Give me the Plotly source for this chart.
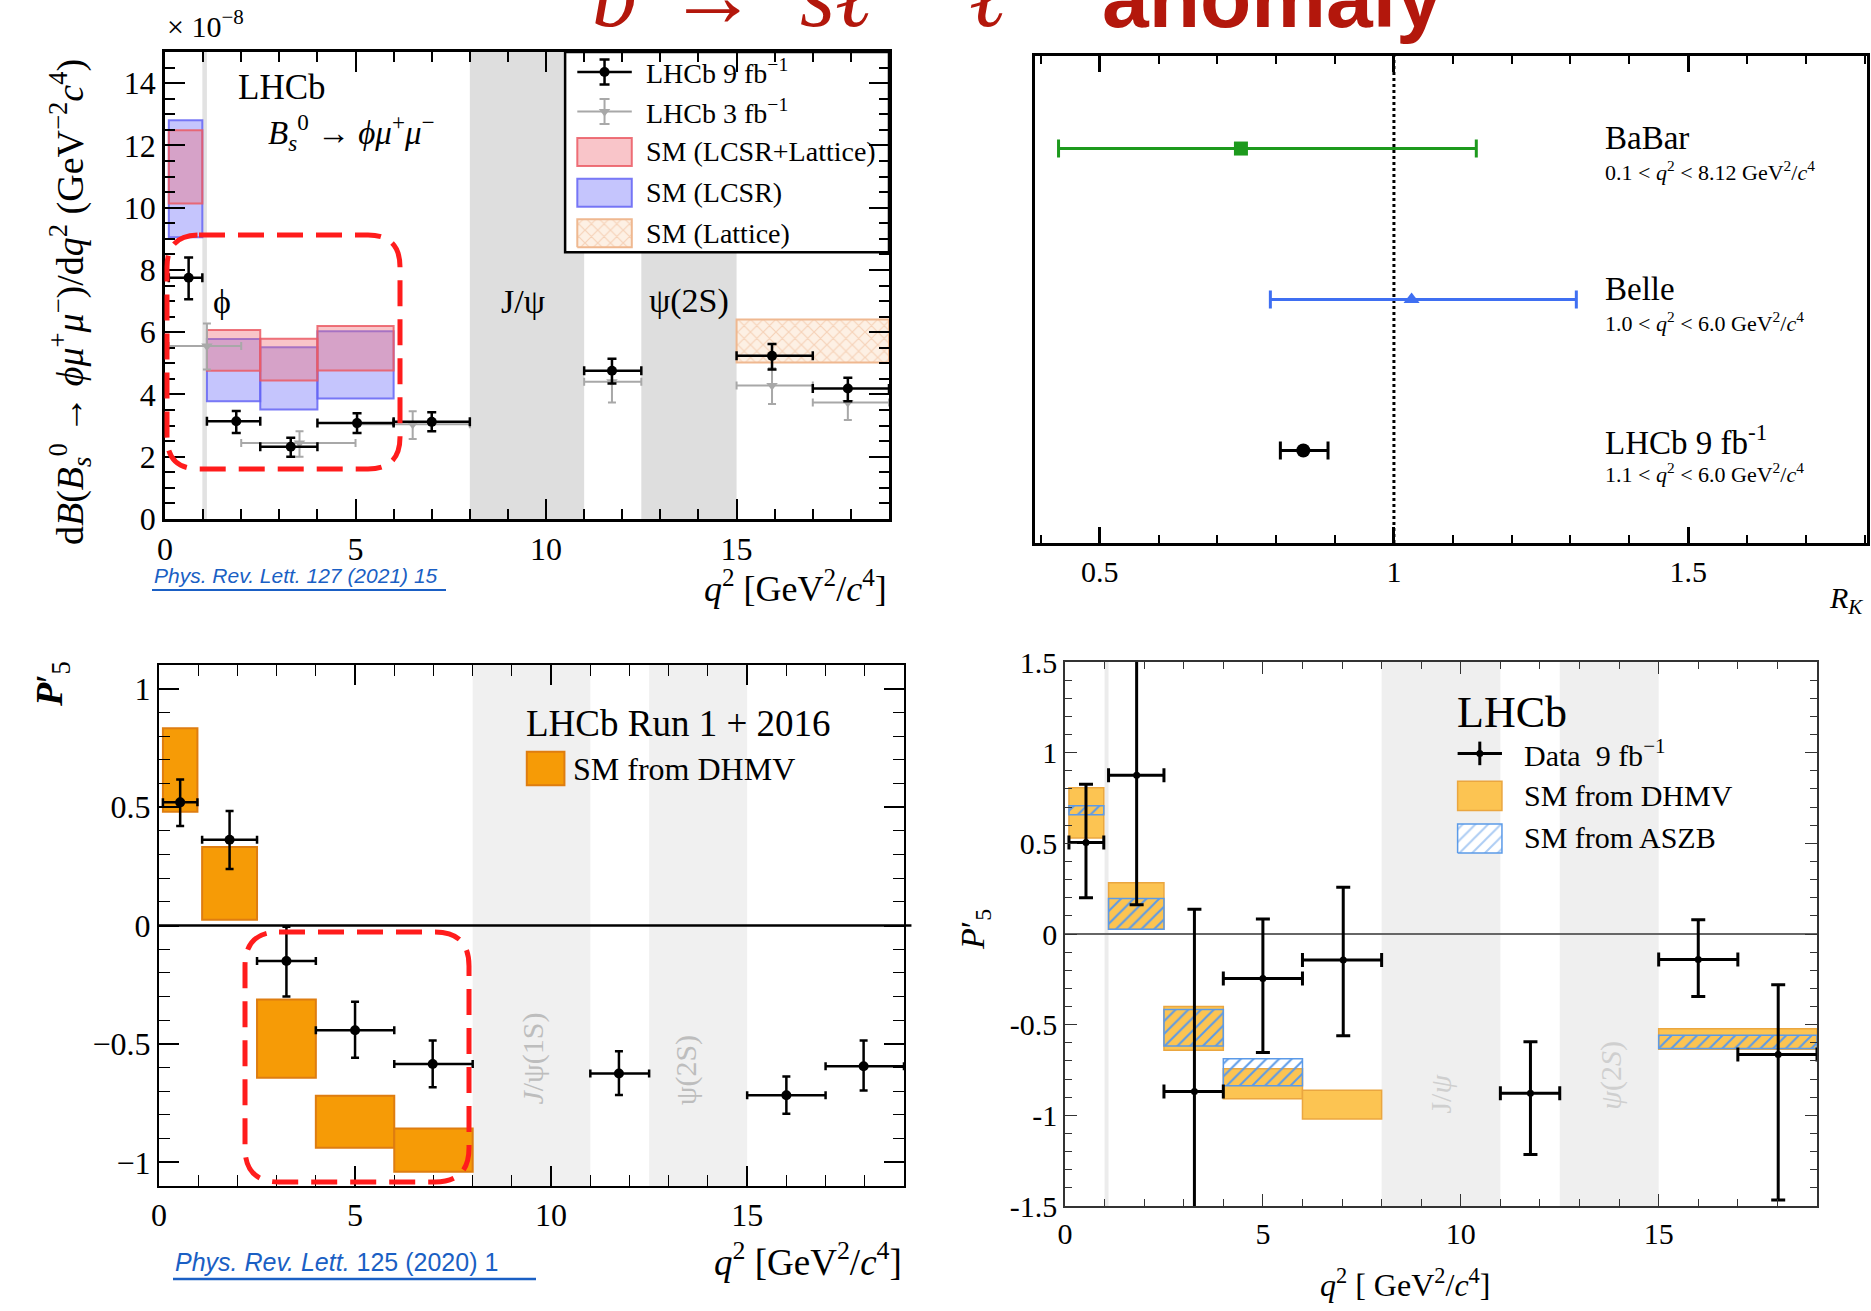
import plotly.graph_objects as go

W, H = 1871, 1311
SERIF = "Liberation Serif"
SANS = "Liberation Sans"

# ---------------------------------------------------------------------------
# Data
# ---------------------------------------------------------------------------
# dB(Bs -> phi mu mu)/dq2 in units of 1e-8 GeV^-2 c^4, LHCb 9 fb^-1
bf9_bin_lo = [0.1, 1.1, 2.5, 4.0, 6.0, 11.0, 15.0, 17.0]
bf9_bin_hi = [0.98, 2.5, 4.0, 6.0, 8.0, 12.5, 17.0, 19.0]
bf9_q2 = [0.62, 1.87, 3.30, 5.04, 7.00, 11.73, 15.93, 17.92]
bf9_val = [7.75, 3.14, 2.32, 3.08, 3.12, 4.76, 5.24, 4.19]
bf9_err_hi = [0.65, 0.33, 0.29, 0.32, 0.31, 0.39, 0.38, 0.35]
bf9_err_lo = [0.69, 0.38, 0.32, 0.32, 0.30, 0.41, 0.44, 0.41]

# LHCb 3 fb^-1
bf3_bin_lo = [0.1, 2.0, 5.0, 11.0, 15.0, 17.0]
bf3_bin_hi = [2.0, 5.0, 8.0, 12.5, 17.0, 19.0]
bf3_q2 = [1.10, 3.53, 6.50, 11.73, 15.93, 17.92]
bf3_val = [5.56, 2.44, 3.04, 4.41, 4.29, 3.74]
bf3_err_hi = [0.72, 0.38, 0.42, 0.30, 0.55, 0.42]
bf3_err_lo = [0.76, 0.44, 0.47, 0.67, 0.60, 0.56]

# SM predictions for the branching fraction
sm_bin_lo = [0.1, 1.1, 2.5, 4.0]
sm_bin_hi = [0.98, 2.5, 4.0, 6.0]
sm_lcsr_lat_lo = [10.13, 4.76, 4.45, 4.77]
sm_lcsr_lat_hi = [12.49, 6.07, 5.79, 6.20]
sm_lcsr_lo = [9.05, 3.78, 3.52, 3.87]
sm_lcsr_hi = [12.81, 5.78, 5.52, 6.03]
sm_lat_bin_lo = [15.0]
sm_lat_bin_hi = [19.0]
sm_lat_lo = [5.03]
sm_lat_hi = [6.41]

# R_K measurements
rk_names = ["BaBar", "Belle", "LHCb 9 fb<sup>-1</sup>"]
rk_q2_ranges = [
    "0.1 &lt; <i>q</i><sup>2</sup> &lt; 8.12 GeV<sup>2</sup>/<i>c</i><sup>4</sup>",
    "1.0 &lt; <i>q</i><sup>2</sup> &lt; 6.0 GeV<sup>2</sup>/<i>c</i><sup>4</sup>",
    "1.1 &lt; <i>q</i><sup>2</sup> &lt; 6.0 GeV<sup>2</sup>/<i>c</i><sup>4</sup>",
]
rk_row = [3, 2, 1]
rk_val = [0.74, 1.03, 0.846]
rk_err_hi = [0.40, 0.28, 0.042]
rk_err_lo = [0.31, 0.24, 0.039]
rk_colors = ["#1d9a1d", "#3f6ff2", "#000000"]
rk_symbols = ["square", "triangle-up", "circle"]

# P5' from LHCb Run 1 + 2016
p5a_bin_lo = [0.1, 1.1, 2.5, 4.0, 6.0, 11.0, 15.0, 17.0]
p5a_bin_hi = [0.98, 2.5, 4.0, 6.0, 8.0, 12.5, 17.0, 19.0]
p5a_q2 = [0.54, 1.80, 3.25, 5.00, 6.98, 11.73, 16.00, 17.97]
p5a_val = [0.520, 0.362, -0.150, -0.442, -0.585, -0.625, -0.717, -0.594]
p5a_err_hi = [0.096, 0.122, 0.145, 0.120, 0.099, 0.094, 0.079, 0.108]
p5a_err_lo = [0.100, 0.123, 0.150, 0.116, 0.098, 0.091, 0.078, 0.103]
dhmv_a_bin_lo = [0.1, 1.1, 2.5, 4.0, 6.0]
dhmv_a_bin_hi = [0.98, 2.5, 4.0, 6.0, 8.0]
dhmv_a_lo = [0.480, 0.024, -0.643, -0.938, -1.040]
dhmv_a_hi = [0.833, 0.331, -0.313, -0.719, -0.857]

# P5' from LHCb 9 fb^-1
p5b_bin_lo = [0.1, 1.1, 2.5, 4.0, 6.0, 11.0, 15.0, 17.0]
p5b_bin_hi = [0.98, 2.5, 4.0, 6.0, 8.0, 12.5, 17.0, 19.0]
p5b_q2 = [0.53, 1.81, 3.27, 5.00, 7.03, 11.76, 16.00, 18.02]
p5b_val = [0.504, 0.875, -0.868, -0.246, -0.144, -0.878, -0.140, -0.665]
p5b_err_hi = [0.322, 0.745, 1.005, 0.329, 0.402, 0.284, 0.218, 0.385]
p5b_err_lo = [0.304, 0.714, 0.882, 0.407, 0.417, 0.338, 0.205, 0.802]
dhmv_b_bin_lo = [0.1, 1.1, 2.5, 4.0, 6.0, 15.0]
dhmv_b_bin_hi = [0.98, 2.5, 4.0, 6.0, 8.0, 19.0]
dhmv_b_lo = [0.530, 0.026, -0.641, -0.908, -1.020, -0.636]
dhmv_b_hi = [0.807, 0.282, -0.400, -0.743, -0.861, -0.523]
aszb_bin_lo = [0.1, 1.1, 2.5, 4.0, 15.0]
aszb_bin_hi = [0.98, 2.5, 4.0, 6.0, 19.0]
aszb_lo = [0.658, 0.026, -0.617, -0.837, -0.632]
aszb_hi = [0.707, 0.196, -0.416, -0.688, -0.558]

# resonance vetoes (q2 ranges)
veto_phi = (0.98, 1.1)
veto_jpsi = (8.0, 11.0)
veto_psi2s = (12.5, 15.0)

# ---------------------------------------------------------------------------
fig = go.Figure()


def px_x(p):
    return p / W


def px_y(p):
    return 1 - p / H


def domain(l, r, t, b):
    return [l / W, r / W], [1 - b / H, 1 - t / H]


def boxes(lo_edges, hi_edges, lo, hi, xa, ya, **marker):
    centers = [(a + b) / 2 for a, b in zip(lo_edges, hi_edges)]
    widths = [b - a for a, b in zip(lo_edges, hi_edges)]
    heights = [h - l for l, h in zip(lo, hi)]
    fig.add_trace(go.Bar(x=centers, y=heights, base=lo, width=widths,
                         marker=marker, xaxis=xa, yaxis=ya,
                         showlegend=False, hoverinfo="skip"))


def points(q2, val, ehi, elo, blo, bhi, xa, ya, color, symbol, size,
           thick, cap):
    fig.add_trace(go.Scatter(
        x=q2, y=val, mode="markers", xaxis=xa, yaxis=ya, showlegend=False,
        marker=dict(color=color, symbol=symbol, size=size),
        error_y=dict(type="data", symmetric=False, array=ehi, arrayminus=elo,
                     color=color, thickness=thick, width=cap),
        error_x=dict(type="data", symmetric=False,
                     array=[h - q for q, h in zip(q2, bhi)],
                     arrayminus=[q - l for q, l in zip(q2, blo)],
                     color=color, thickness=thick, width=cap)))


def band(xa, lo, hi, color):
    fig.add_shape(type="rect", xref=xa, yref=f"{xa.replace('x', 'y')} domain",
                  x0=lo, x1=hi, y0=0, y1=1, fillcolor=color,
                  line=dict(width=0), layer="below")


def text(x, y, s, size, xref="paper", yref="paper", xanchor="center",
         yanchor="middle", color="black", family=SERIF, angle=0):
    fig.add_annotation(x=x, y=y, xref=xref, yref=yref, text=s,
                       showarrow=False, xanchor=xanchor, yanchor=yanchor,
                       textangle=angle,
                       font=dict(family=family, size=size, color=color))


def rounded_box(x0, y0, x1, y1, r):
    def P(x, y):
        return f"{x / W:.5f},{1 - y / H:.5f}"
    return (f"M {P(x0 + r, y0)} L {P(x1 - r, y0)} Q {P(x1, y0)} {P(x1, y0 + r)} "
            f"L {P(x1, y1 - r)} Q {P(x1, y1)} {P(x1 - r, y1)} "
            f"L {P(x0 + r, y1)} Q {P(x0, y1)} {P(x0, y1 - r)} "
            f"L {P(x0, y0 + r)} Q {P(x0, y0)} {P(x0 + r, y0)} Z")


# ---------------------------------------------------------------------------
# Top-left: Bs -> phi mu mu branching fraction
# ---------------------------------------------------------------------------
band("x", *veto_phi, "#e2e2e2")
band("x", *veto_jpsi, "#dedede")
band("x", *veto_psi2s, "#dedede")
# legend frame (white box covering the bands)
fig.add_shape(type="rect", xref="x", yref="y", x0=10.5, x1=19, y0=8.57, y1=15,
              fillcolor="white", line=dict(color="black", width=2.5),
              layer="below")

boxes(sm_bin_lo, sm_bin_hi, sm_lcsr_lo, sm_lcsr_hi, "x", "y",
      color="rgba(110,110,250,0.40)",
      line=dict(color="rgba(100,100,245,0.85)", width=2))
boxes(sm_bin_lo, sm_bin_hi, sm_lcsr_lat_lo, sm_lcsr_lat_hi, "x", "y",
      color="rgba(240,110,120,0.40)",
      line=dict(color="rgba(235,90,100,0.85)", width=2))
boxes(sm_lat_bin_lo, sm_lat_bin_hi, sm_lat_lo, sm_lat_hi, "x", "y",
      color="#fdf0e4",
      line=dict(color="#efb890", width=2),
      pattern=dict(shape="x", fgcolor="#eeb48c", bgcolor="#fdf0e4",
                   size=9, solidity=0.25, fillmode="overlay"))

points(bf3_q2, bf3_val, bf3_err_hi, bf3_err_lo, bf3_bin_lo, bf3_bin_hi,
       "x", "y", "#a8a8a8", "triangle-down", 10, 2, 4)
points(bf9_q2, bf9_val, bf9_err_hi, bf9_err_lo, bf9_bin_lo, bf9_bin_hi,
       "x", "y", "black", "circle", 10, 2.5, 4.5)

# legend glyphs
LEG_TL_X = (10.82, 12.25)
LEG_TL_ROWS = [14.36, 13.09, 11.79, 10.48, 9.18]
leg_xc = (LEG_TL_X[0] + LEG_TL_X[1]) / 2
leg_hw = (LEG_TL_X[1] - LEG_TL_X[0]) / 2
for row, col, sym, th in [(LEG_TL_ROWS[0], "black", "circle", 2.5),
                          (LEG_TL_ROWS[1], "#a8a8a8", "triangle-down", 2)]:
    fig.add_trace(go.Scatter(
        x=[leg_xc], y=[row], mode="markers", xaxis="x", yaxis="y",
        showlegend=False, hoverinfo="skip",
        marker=dict(color=col, symbol=sym, size=10),
        error_x=dict(type="constant", value=leg_hw, color=col, thickness=th, width=0),
        error_y=dict(type="constant", value=0.4, color=col, thickness=th, width=5)))
for row, fill, edge in [(LEG_TL_ROWS[2], "rgba(240,110,120,0.40)", "rgba(235,90,100,0.85)"),
                        (LEG_TL_ROWS[3], "rgba(110,110,250,0.40)", "rgba(100,100,245,0.85)")]:
    fig.add_shape(type="rect", xref="x", yref="y", x0=LEG_TL_X[0], x1=LEG_TL_X[1],
                  y0=row - 0.45, y1=row + 0.45, fillcolor=fill,
                  line=dict(color=edge, width=2), layer="above")
r5 = LEG_TL_ROWS[4]
fig.add_trace(go.Scatter(
    x=[LEG_TL_X[0], LEG_TL_X[1], LEG_TL_X[1], LEG_TL_X[0], LEG_TL_X[0]],
    y=[r5 - 0.45, r5 - 0.45, r5 + 0.45, r5 + 0.45, r5 - 0.45],
    mode="lines", fill="toself", fillcolor="#fdf0e4",
    fillpattern=dict(shape="x", fgcolor="#eeb48c", bgcolor="#fdf0e4", size=9,
                     solidity=0.25, fillmode="overlay"),
    line=dict(color="#efb890", width=2), xaxis="x", yaxis="y",
    showlegend=False, hoverinfo="skip"))
for row, s in zip(LEG_TL_ROWS, ["LHCb 9 fb<sup>−1</sup>", "LHCb 3 fb<sup>−1</sup>",
                               "SM (LCSR+Lattice)", "SM (LCSR)", "SM (Lattice)"]):
    text(12.57, row, s, 28, "x", "y", xanchor="left")

text(1.86, 13.85, "LHCb", 35, "x", "y", xanchor="left")
text(2.65, 12.4, "<i>B</i><sub><i>s</i></sub><sup>0</sup> → <i>ϕμ</i><sup>+</sup><i>μ</i><sup>−</sup>",
     33, "x", "y", xanchor="left")
text(1.5, 7.0, "ϕ", 34, "x", "y")
text(9.4, 7.0, "J/ψ", 34, "x", "y")
text(13.75, 7.0, "ψ(2S)", 34, "x", "y")

text(px_x(165), px_y(24), "× 10<sup>−8</sup>", 30, xanchor="left")
text(px_x(70), px_y(302),
     "d<i>B</i>(<i>B</i><sub><i>s</i></sub><sup>0</sup> → <i>ϕμ</i><sup>+</sup><i>μ</i><sup>−</sup>)/d<i>q</i><sup>2</sup> (GeV<sup>−2</sup><i>c</i><sup>4</sup>)",
     38, angle=-90)
text(px_x(889), px_y(586), "<i>q</i><sup>2</sup> [GeV<sup>2</sup>/<i>c</i><sup>4</sup>]",
     36, xanchor="right")
text(px_x(152), px_y(576), "<i>Phys. Rev. Lett. 127 (2021) 15</i>", 21,
     xanchor="left", color="#1a5fc4", family=SANS)
fig.add_shape(type="line", xref="paper", yref="paper", x0=px_x(152), x1=px_x(446),
              y0=px_y(590), y1=px_y(590), line=dict(color="#1a5fc4", width=2))

fig.add_shape(type="path", xref="paper", yref="paper",
              path=rounded_box(167, 235, 400, 469, 32),
              line=dict(color="#ff1c1c", width=5, dash="26px,13px"), layer="above")

# ---------------------------------------------------------------------------
# Top-right: R_K comparison
# ---------------------------------------------------------------------------
fig.add_shape(type="line", xref="x2", yref="y2 domain", x0=1, x1=1, y0=0, y1=1,
              line=dict(color="black", width=3, dash="dot"), layer="below")
for name, rng, row, v, eh, el, c, sym in zip(rk_names, rk_q2_ranges, rk_row, rk_val,
                                            rk_err_hi, rk_err_lo, rk_colors, rk_symbols):
    fig.add_trace(go.Scatter(
        x=[v], y=[row], mode="markers", xaxis="x2", yaxis="y2", showlegend=False,
        marker=dict(color=c, symbol=sym, size=14),
        error_x=dict(type="data", symmetric=False, array=[eh], arrayminus=[el],
                     color=c, thickness=3, width=9)))
    text(1.355, row + 0.07, name, 33, "x2", "y2", xanchor="left")
    text(1.355, row - 0.15, rng, 22, "x2", "y2", xanchor="left")
text(px_x(1846), px_y(600), "<i>R</i><sub><i>K</i></sub>", 30)

# ---------------------------------------------------------------------------
# Bottom-left: P5' Run 1 + 2016
# ---------------------------------------------------------------------------
band("x3", *veto_jpsi, "#f0f0f0")
band("x3", *veto_psi2s, "#f0f0f0")
fig.add_shape(type="line", xref="x3 domain", yref="y3", x0=0, x1=1.01, y0=0, y1=0,
              line=dict(color="black", width=2.5), layer="below")
boxes(dhmv_a_bin_lo, dhmv_a_bin_hi, dhmv_a_lo, dhmv_a_hi, "x3", "y3",
      color="#f69b06", line=dict(color="#de7d10", width=2))
points(p5a_q2, p5a_val, p5a_err_hi, p5a_err_lo, p5a_bin_lo, p5a_bin_hi,
       "x3", "y3", "black", "circle", 10, 2.5, 4)
text(9.55, -0.56, "<i>J</i>/ψ(1S)", 30, "x3", "y3", color="#bdbdbd", angle=-90)
text(13.45, -0.61, "ψ(2S)", 30, "x3", "y3", color="#bdbdbd", angle=-90)
text(9.3, 0.851, "LHCb Run 1 + 2016", 37, "x3", "y3", xanchor="left")
fig.add_shape(type="rect", xref="x3", yref="y3", x0=9.38, x1=10.34, y0=0.592, y1=0.734,
              fillcolor="#f69b06", line=dict(color="#de7d10", width=2), layer="above")
text(10.5, 0.661, "SM from DHMV", 32, "x3", "y3", xanchor="left")

text(px_x(52), px_y(684), "<i><b>P</b></i>′<sub>5</sub>", 38, angle=-90)
text(px_x(904), px_y(1259), "<i>q</i><sup>2</sup> [GeV<sup>2</sup>/<i>c</i><sup>4</sup>]",
     37, xanchor="right")
text(px_x(173), px_y(1262), "<i>Phys. Rev. Lett.</i> 125 (2020) 1", 25,
     xanchor="left", color="#1a5fc4", family=SANS)
fig.add_shape(type="line", xref="paper", yref="paper", x0=px_x(173), x1=px_x(536),
              y0=px_y(1279), y1=px_y(1279), line=dict(color="#1a5fc4", width=2.5))
fig.add_shape(type="path", xref="paper", yref="paper",
              path=rounded_box(245, 932, 469, 1182, 34),
              line=dict(color="#ff1c1c", width=5, dash="26px,13px"), layer="above")

# ---------------------------------------------------------------------------
# Bottom-right: P5' 9 fb^-1
# ---------------------------------------------------------------------------
band("x4", 1.0, 1.1, "#ececec")
band("x4", *veto_jpsi, "#efefef")
band("x4", *veto_psi2s, "#efefef")
fig.add_shape(type="line", xref="x4 domain", yref="y4", x0=0, x1=1, y0=0, y1=0,
              line=dict(color="#666666", width=2), layer="below")
boxes(dhmv_b_bin_lo, dhmv_b_bin_hi, dhmv_b_lo, dhmv_b_hi, "x4", "y4",
      color="#fcc452", line=dict(color="#eaa640", width=1.5))
boxes(aszb_bin_lo, aszb_bin_hi, aszb_lo, aszb_hi, "x4", "y4",
      color="rgba(0,0,0,0)", line=dict(color="#5b9ae8", width=1.5),
      pattern=dict(shape="/", fgcolor="#5b9ae8", bgcolor="rgba(0,0,0,0)",
                   size=9, solidity=0.22, fillmode="replace"))
points(p5b_q2, p5b_val, p5b_err_hi, p5b_err_lo, p5b_bin_lo, p5b_bin_hi,
       "x4", "y4", "black", "circle", 7, 3, 7)
text(9.5, -0.88, "J/<i>ψ</i>", 30, "x4", "y4", color="#cfcfcf", angle=-90)
text(13.8, -0.78, "<i>ψ</i>(2<i>S</i>)", 30, "x4", "y4", color="#cfcfcf", angle=-90)

LEG_BR_X = (9.92, 11.04)
text(9.85, 1.22, "LHCb", 44, "x4", "y4", xanchor="left")
fig.add_trace(go.Scatter(
    x=[(LEG_BR_X[0] + LEG_BR_X[1]) / 2], y=[0.996], mode="markers",
    xaxis="x4", yaxis="y4", showlegend=False, hoverinfo="skip",
    marker=dict(color="black", size=7),
    error_x=dict(type="constant", value=(LEG_BR_X[1] - LEG_BR_X[0]) / 2,
                 color="black", thickness=3, width=0),
    error_y=dict(type="constant", value=0.065, color="black", thickness=3, width=0)))
fig.add_shape(type="rect", xref="x4", yref="y4", x0=LEG_BR_X[0], x1=LEG_BR_X[1],
              y0=0.681, y1=0.842, fillcolor="#fcc452",
              line=dict(color="#eaa640", width=1.5), layer="above")
fig.add_trace(go.Scatter(
    x=[LEG_BR_X[0], LEG_BR_X[1], LEG_BR_X[1], LEG_BR_X[0], LEG_BR_X[0]],
    y=[0.447, 0.447, 0.606, 0.606, 0.447], mode="lines", fill="toself",
    fillcolor="rgba(0,0,0,0)",
    fillpattern=dict(shape="/", fgcolor="#5b9ae8", bgcolor="white", size=9,
                     solidity=0.22),
    line=dict(color="#5b9ae8", width=1.5), xaxis="x4", yaxis="y4",
    showlegend=False, hoverinfo="skip"))
text(11.54, 0.996, "Data  9 fb<sup>−1</sup>", 30, "x4", "y4", xanchor="left")
text(11.54, 0.765, "SM from DHMV", 30, "x4", "y4", xanchor="left")
text(11.54, 0.53, "SM from ASZB", 30, "x4", "y4", xanchor="left")

text(px_x(975), px_y(930), "<i>P</i>′<sub>5</sub>", 34, angle=-90)
text(px_x(1405), px_y(1283), "<i>q</i><sup>2</sup> [ GeV<sup>2</sup>/<i>c</i><sup>4</sup>]", 32)

# ---------------------------------------------------------------------------
# Title strip across the top (only its lower part falls inside the page)
# ---------------------------------------------------------------------------
TITLE_RED = "#b3170c"
for s, xp, fam, size in [("<i>b</i>", 590, SERIF, 90),
                         ("→", 666, SERIF, 90),
                         ("<i>sℓ</i><sup>+</sup>", 798, SERIF, 90),
                         ("<i>ℓ</i><sup>−</sup>", 967, SERIF, 90),
                         ("<b>anomaly</b>", 1100, SANS, 84)]:
    text(px_x(xp), px_y(47), s, size, xanchor="left", yanchor="bottom",
         color=TITLE_RED, family=fam)

# ---------------------------------------------------------------------------
# Axes
# ---------------------------------------------------------------------------
def axis(dom, rng, anchor, major, minor, lw, tl, ml, fs, color="black",
         labels=True, ticks=True, tickvals=None, ticktext=None):
    a = dict(domain=dom, range=rng, anchor=anchor, showgrid=False, zeroline=False,
             automargin=False,
             showline=True, mirror="ticks" if ticks else True, linecolor=color,
             linewidth=lw, ticks="inside" if ticks else "", ticklen=tl,
             tickwidth=max(lw - 0.5, 1), tickcolor=color, showticklabels=labels,
             tickfont=dict(family=SERIF, size=fs, color="black"), fixedrange=True)
    if tickvals is not None:
        a.update(tickmode="array", tickvals=tickvals, ticktext=ticktext)
    elif major is not None:
        a.update(tickmode="linear", tick0=0, dtick=major)
    if ticks and minor is not None:
        a["minor"] = dict(ticks="inside", ticklen=ml, tickwidth=max(lw - 1, 1),
                          tickcolor=color, tickmode="linear", tick0=0, dtick=minor,
                          showgrid=False)
    return a


xd1, yd1 = domain(165, 889, 52, 519)
xd2, yd2 = domain(1035, 1867, 56, 543)
xd3, yd3 = domain(159, 904, 665, 1186)
xd4, yd4 = domain(1065, 1817, 662, 1206)

fig.update_layout(
    width=W, height=H, autosize=False,
    margin=dict(l=0, r=0, t=0, b=0, pad=0, autoexpand=False),
    paper_bgcolor="white", plot_bgcolor="white",
    barmode="overlay", showlegend=False,
    xaxis=axis(xd1, [0, 19], "y", 5, 1, 2.5, 20, 10, 32),
    yaxis=axis(yd1, [0, 15], "x", 2, 0.5, 2.5, 20, 10, 32),
    xaxis2=axis(xd2, [0.39, 1.804], "y2", 0.5, 0.1, 3, 16, 8, 30,
                tickvals=[0.5, 1, 1.5], ticktext=["0.5", "1", "1.5"]),
    yaxis2=axis(yd2, [0.387, 3.613], "x2", None, None, 3, 0, 0, 30,
                labels=False, ticks=False),
    xaxis3=axis(xd3, [0, 19], "y3", 5, 1, 2, 20, 11, 32),
    yaxis3=axis(yd3, [-1.1, 1.1], "x3", 0.5, 0.1, 2, 20, 11, 32,
                tickvals=[-1, -0.5, 0, 0.5, 1], ticktext=["−1", "−0.5", "0", "0.5", "1"]),
    xaxis4=axis(xd4, [0, 19], "y4", 5, 1, 1.5, 12, 7, 30, color="#333333"),
    yaxis4=axis(yd4, [-1.5, 1.5], "x4", 0.5, 0.1, 1.5, 12, 7, 30, color="#333333",
                tickvals=[-1.5, -1, -0.5, 0, 0.5, 1, 1.5],
                ticktext=["-1.5", "-1", "-0.5", "0", "0.5", "1", "1.5"]),
)

fig.write_html("out.html")
